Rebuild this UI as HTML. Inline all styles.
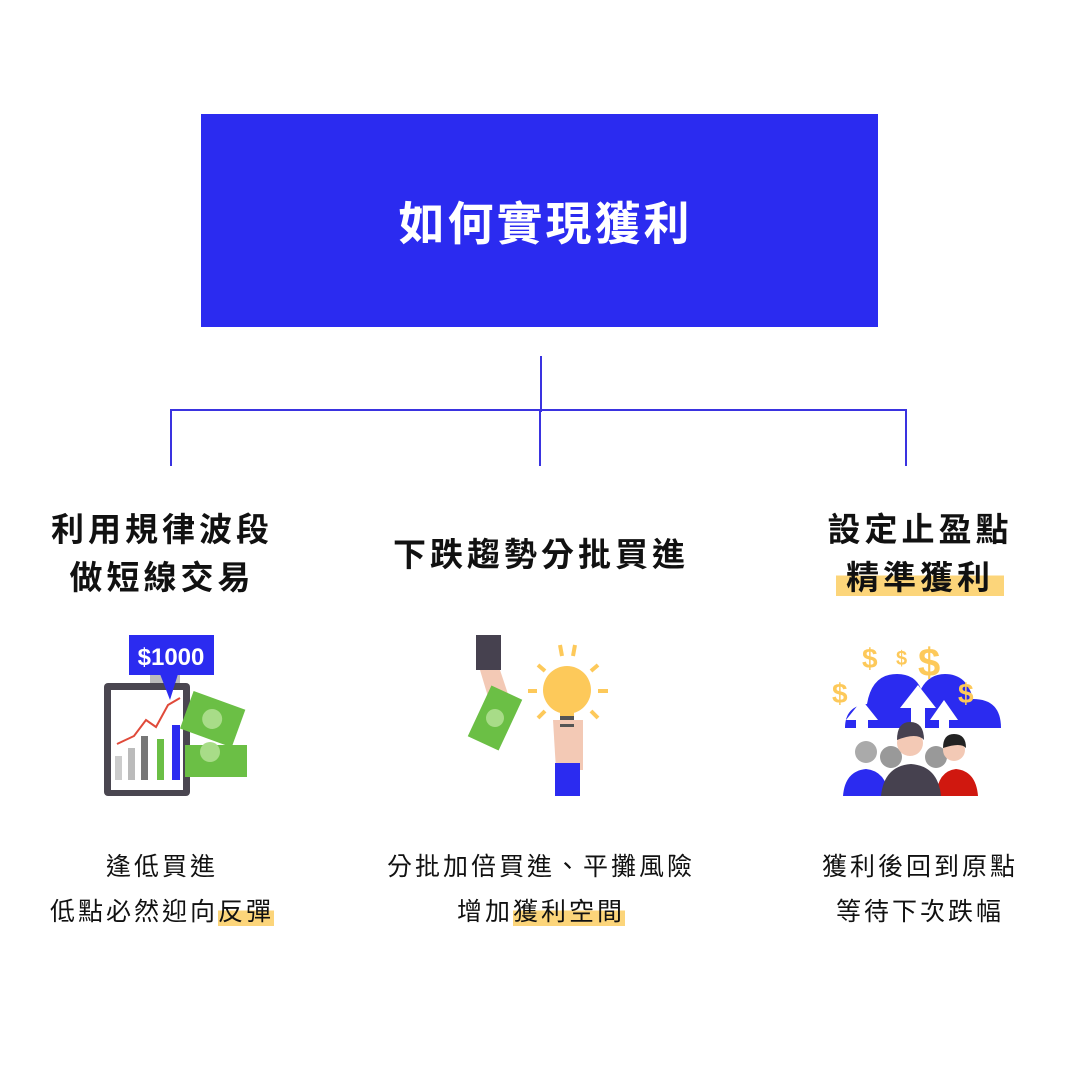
<!DOCTYPE html>
<html><head><meta charset="utf-8"><style>
body{margin:0;width:1080px;height:1080px;background:#fff;position:relative;overflow:hidden;font-family:"Liberation Sans","Noto Sans CJK TC",sans-serif;}
.a{position:absolute;}
.box{left:201px;top:114px;width:677px;height:213px;background:#2b2bf0;color:#fff;font-size:46px;font-weight:bold;letter-spacing:3px;display:flex;align-items:center;justify-content:center;box-sizing:border-box;padding-left:12px;}
.ln{background:#3a33e0;position:absolute;}
.h{position:absolute;width:360px;text-align:center;font-size:33px;font-weight:bold;letter-spacing:4px;line-height:48px;color:#111;}
.t{position:absolute;width:400px;text-align:center;font-size:25px;letter-spacing:3px;line-height:45px;color:#111;}
.hl{background:linear-gradient(transparent 45%,#fcd57a 45%);}
</style></head><body>
<div class="a box">如何實現獲利</div>
<div class="ln" style="left:540px;top:356px;width:2px;height:56px"></div>
<div class="ln" style="left:170px;top:409px;width:737px;height:2px"></div>
<div class="ln" style="left:170px;top:409px;width:2px;height:57px"></div>
<div class="ln" style="left:539px;top:409px;width:2px;height:57px"></div>
<div class="ln" style="left:905px;top:409px;width:2px;height:57px"></div>

<div class="h" style="left:-18px;top:506px">利用規律波段<br>做短線交易</div>
<div class="h" style="left:361px;top:531px">下跌趨勢分批買進</div>
<div class="h" style="left:740px;top:506px">設定止盈點<br><span class="hl" style="padding:0 10px">精準獲利</span></div>

<div class="t" style="left:-38px;top:845px">逢低買進<br>低點必然迎向<span class="hl">反彈</span></div>
<div class="t" style="left:341px;top:845px">分批加倍買進、平攤風險<br>增加<span class="hl">獲利空間</span></div>
<div class="t" style="left:720px;top:845px">獲利後回到原點<br>等待下次跌幅</div>

<svg class="a" style="left:0;top:0" width="1080" height="1080">
<rect x="150" y="673" width="30" height="10" fill="#bbb"/>
<rect x="104" y="683" width="86" height="113" rx="4" fill="#4a4650"/>
<rect x="111" y="690" width="72" height="100" fill="#fff"/>
<g transform="rotate(20 215 720)"><rect x="185" y="700" width="55" height="40" fill="#6bbf45"/><circle cx="212" cy="720" r="10" fill="#a8dc88"/></g>
<rect x="185" y="745" width="62" height="32" fill="#6bbf45"/><circle cx="210" cy="752" r="10" fill="#a8dc88"/>
<rect x="115" y="756" width="7" height="24" fill="#ccc"/><rect x="128" y="748" width="7" height="32" fill="#bbb"/>
<rect x="141" y="736" width="7" height="44" fill="#777"/><rect x="157" y="739" width="7" height="41" fill="#6bbf45"/>
<rect x="172" y="725" width="8" height="55" fill="#2b2bf0"/>
<polyline points="117,744 134,736 146,720 156,727 168,705 180,698" fill="none" stroke="#e04a3a" stroke-width="2"/>
<rect x="129" y="635" width="85" height="40" fill="#2b2bf0"/>
<polygon points="160,674 178,674 170,700" fill="#2b2bf0"/>
<text x="171" y="665" fill="#fff" font-size="24" font-weight="bold" text-anchor="middle" font-family="Liberation Sans Narrow,Liberation Sans,sans-serif">$1000</text>
<rect x="476" y="635" width="25" height="35" fill="#46414f"/>
<path d="M480 670 h20 l10 30 l-15 20 z" fill="#f3c9b5"/>
<g transform="rotate(25 495 718)"><rect x="478" y="690" width="34" height="56" fill="#6bbf45"/><circle cx="495" cy="718" r="9" fill="#a8dc88"/></g>
<circle cx="567" cy="690" r="24" fill="#fdc95a"/>
<rect x="560" y="710" width="14" height="25" fill="#fdc95a"/>
<path d="M553 720 h30 v50 h-27 z" fill="#f3c9b5"/>
<rect x="560" y="716" width="14" height="4" fill="#555"/><rect x="560" y="724" width="14" height="3" fill="#555"/>
<rect x="555" y="763" width="25" height="33" fill="#2b2bf0"/>
<g stroke="#fdc95a" stroke-width="4"><line x1="562" y1="656" x2="560" y2="645"/><line x1="573" y1="656" x2="575" y2="645"/><line x1="537" y1="691" x2="528" y2="691"/><line x1="598" y1="691" x2="608" y2="691"/><line x1="545" y1="671" x2="538" y2="665"/><line x1="591" y1="671" x2="598" y2="665"/><line x1="545" y1="711" x2="538" y2="718"/><line x1="591" y1="711" x2="598" y2="718"/></g>
<path d="M845 728 q0-22 22-24 q5-30 30-30 q18 0 24 15 q8-15 24-15 q22 0 28 25 q28 0 28 29 z" fill="#2b2bf0"/>
<g fill="#fff"><polygon points="862,700 878,720 868,720 868,740 856,740 856,720 846,720"/><polygon points="918,685 936,708 925,708 925,735 911,735 911,708 900,708"/><polygon points="944,700 958,720 949,720 949,740 939,740 939,720 930,720"/></g>
<g fill="#fdc95a" font-weight="bold" font-family="Liberation Sans,sans-serif"><text x="862" y="668" font-size="28">$</text><text x="896" y="665" font-size="20">$</text><text x="918" y="676" font-size="40">$</text><text x="832" y="703" font-size="28">$</text><text x="958" y="703" font-size="28">$</text></g>
<circle cx="866" cy="752" r="11" fill="#aaa"/><circle cx="891" cy="757" r="11" fill="#999"/><circle cx="936" cy="757" r="11" fill="#999"/>
<path d="M843 796 q2-25 23-27 q20 2 23 27 z" fill="#2b2bf0"/>
<path d="M936 796 q2-25 20-27 q20 2 22 27 z" fill="#d0180f"/>
<circle cx="954" cy="750" r="11" fill="#f3c9b5"/><path d="M943 748 q0-14 11-14 q12 0 12 14 q-5-6-23 0z" fill="#222"/>
<path d="M881 796 q3-30 30-32 q27 2 30 32 z" fill="#46414f"/>
<circle cx="910" cy="743" r="13" fill="#f3c9b5"/><path d="M897 740 q0-18 13-18 q14 0 14 18 q-7-8-27 0z" fill="#46414f"/>
</svg>
</body></html>
